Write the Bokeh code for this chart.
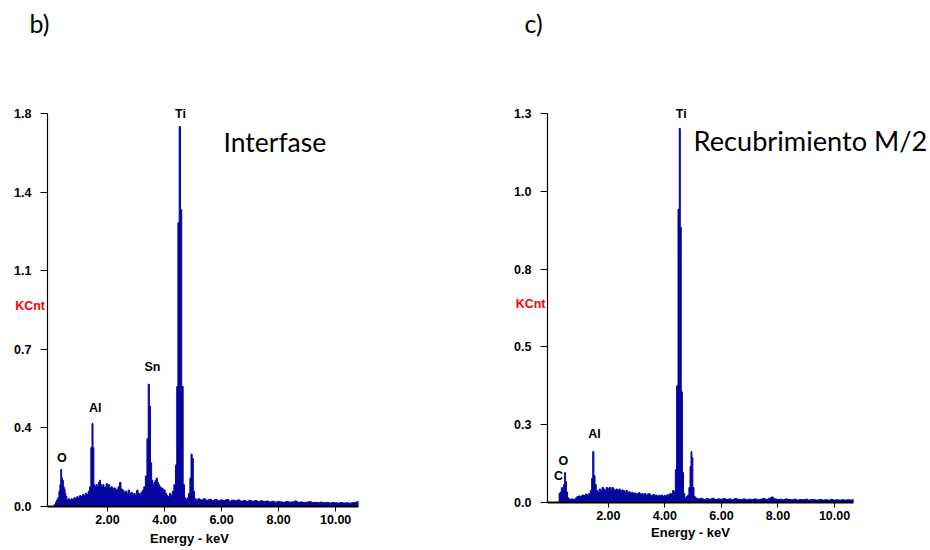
from bokeh.plotting import figure
from bokeh.models import Range1d, FixedTicker, NumeralTickFormatter, Label
from bokeh.layouts import row
from bokeh.embed import file_html
from bokeh.resources import INLINE

# ---------------- data ----------------
# Panel b) "Interfase"
left_energy = [
    0.12, 0.16, 0.20, 0.24, 0.28, 0.32, 0.35, 0.38, 0.41, 0.44, 0.47, 0.50, 0.53, 0.56,
    0.60, 0.65, 0.70, 0.75, 0.80, 0.85, 0.90, 0.95, 1.00, 1.05, 1.10, 1.15, 1.20, 1.25,
    1.30, 1.35, 1.40, 1.44, 1.48, 1.51, 1.54, 1.58, 1.62, 1.66, 1.70, 1.74, 1.78, 1.82,
    1.86, 1.90, 1.94, 1.98, 2.02, 2.06, 2.10, 2.15, 2.20, 2.25, 2.30, 2.35, 2.40, 2.45,
    2.50, 2.55, 2.60, 2.65, 2.70, 2.75, 2.80, 2.85, 2.90, 2.95, 3.00, 3.05, 3.10, 3.15,
    3.20, 3.25, 3.30, 3.36, 3.41, 3.45, 3.49, 3.53, 3.57, 3.61, 3.65, 3.69, 3.73, 3.77,
    3.81, 3.85, 3.90, 3.95, 4.00, 4.05, 4.10, 4.15, 4.20, 4.25, 4.30, 4.36, 4.41, 4.45,
    4.49, 4.54, 4.58, 4.63, 4.68, 4.72, 4.77, 4.82, 4.87, 4.91, 4.95, 4.99, 5.03, 5.08,
    5.14, 5.20, 5.30, 5.40, 5.50, 5.60, 5.70, 5.80, 5.90, 6.00, 6.10, 6.20, 6.30, 6.40,
    6.50, 6.60, 6.70, 6.80, 6.90, 7.00, 7.10, 7.20, 7.30, 7.40, 7.50, 7.60, 7.70, 7.80,
    7.90, 8.00, 8.10, 8.20, 8.30, 8.40, 8.50, 8.60, 8.70, 8.80, 8.90, 9.00, 9.10, 9.20,
    9.30, 9.40, 9.50, 9.60, 9.70, 9.80, 9.90, 10.00, 10.10, 10.20, 10.30, 10.40, 10.50,
    10.60, 10.70, 10.80,
]
left_counts = [
    0.0, 0.01, 0.02, 0.03, 0.04, 0.07, 0.10, 0.17, 0.13, 0.12, 0.09, 0.08, 0.06, 0.045,
    0.03, 0.035, 0.03, 0.035, 0.03, 0.04, 0.035, 0.045, 0.04, 0.05, 0.045, 0.055, 0.05, 0.06,
    0.055, 0.07, 0.09, 0.27, 0.38, 0.27, 0.10, 0.09, 0.10, 0.09, 0.11, 0.12, 0.10, 0.09,
    0.10, 0.085, 0.09, 0.105, 0.09, 0.10, 0.085, 0.09, 0.08, 0.085, 0.075, 0.08, 0.09, 0.11,
    0.08, 0.075, 0.065, 0.07, 0.06, 0.075, 0.06, 0.065, 0.055, 0.06, 0.05, 0.075, 0.06, 0.055,
    0.065, 0.075, 0.09, 0.14, 0.31, 0.56, 0.46, 0.20, 0.12, 0.10, 0.11, 0.12, 0.13, 0.11,
    0.10, 0.09, 0.085, 0.08, 0.075, 0.06, 0.05, 0.045, 0.06, 0.05, 0.07, 0.10, 0.19, 0.55,
    1.30, 1.74, 1.36, 0.55, 0.10, 0.04, 0.03, 0.04, 0.06, 0.13, 0.24, 0.22, 0.07, 0.035,
    0.03, 0.035, 0.03, 0.035, 0.028, 0.033, 0.027, 0.032, 0.026, 0.03, 0.027, 0.032, 0.025, 0.029,
    0.026, 0.03, 0.024, 0.027, 0.023, 0.028, 0.024, 0.027, 0.022, 0.026, 0.023, 0.025, 0.021, 0.024,
    0.02, 0.023, 0.021, 0.019, 0.023, 0.02, 0.021, 0.025, 0.019, 0.021, 0.018, 0.02, 0.022, 0.018,
    0.019, 0.017, 0.02, 0.017, 0.019, 0.016, 0.018, 0.017, 0.016, 0.018, 0.016, 0.017, 0.015,
    0.017, 0.019, 0.022,
]
left_ticks_y = [0, 0.36, 0.72, 1.08, 1.44, 1.8]
left_elements = ["O", "Al", "Sn", "Ti"]
left_element_x = [0.40, 1.57, 3.58, 4.56]
left_element_y = [0.22, 0.45, 0.64, 1.8]

# Panel c) "Recubrimiento M/2"
right_energy = [
    0.24, 0.28, 0.32, 0.36, 0.40, 0.44, 0.47, 0.50, 0.54, 0.58, 0.65, 0.72, 0.80, 0.86,
    0.92, 0.98, 1.04, 1.10, 1.16, 1.22, 1.28, 1.34, 1.39, 1.43, 1.47, 1.51, 1.55, 1.60,
    1.65, 1.70, 1.75, 1.80, 1.85, 1.90, 1.95, 2.00, 2.05, 2.10, 2.15, 2.20, 2.25, 2.30,
    2.35, 2.40, 2.45, 2.50, 2.55, 2.60, 2.65, 2.70, 2.75, 2.80, 2.85, 2.90, 2.95, 3.00,
    3.05, 3.10, 3.15, 3.20, 3.25, 3.30, 3.35, 3.40, 3.45, 3.50, 3.55, 3.60, 3.65, 3.70,
    3.75, 3.80, 3.85, 3.90, 3.95, 4.00, 4.05, 4.10, 4.15, 4.20, 4.25, 4.30, 4.35, 4.39,
    4.44, 4.49, 4.53, 4.56, 4.60, 4.64, 4.68, 4.73, 4.78, 4.83, 4.87, 4.91, 4.94, 4.97,
    5.01, 5.05, 5.10, 5.20, 5.30, 5.40, 5.50, 5.60, 5.70, 5.80, 5.90, 6.00, 6.10, 6.20,
    6.30, 6.40, 6.50, 6.60, 6.70, 6.80, 6.90, 7.00, 7.10, 7.20, 7.30, 7.40, 7.50, 7.60,
    7.70, 7.80, 7.90, 8.00, 8.10, 8.20, 8.30, 8.40, 8.50, 8.60, 8.70, 8.80, 8.90, 9.00,
    9.10, 9.20, 9.30, 9.40, 9.50, 9.60, 9.70, 9.80, 9.90, 10.00, 10.10, 10.20, 10.30,
    10.40, 10.50, 10.60, 10.67,
]
right_counts = [
    0.0, 0.03, 0.035, 0.05, 0.04, 0.06, 0.10, 0.07, 0.035, 0.015, 0.01, 0.012, 0.01, 0.015,
    0.02, 0.022, 0.02, 0.025, 0.023, 0.028, 0.025, 0.03, 0.04, 0.08, 0.17, 0.09, 0.06, 0.04,
    0.035, 0.045, 0.04, 0.05, 0.045, 0.04, 0.05, 0.045, 0.05, 0.04, 0.05, 0.045, 0.04, 0.045,
    0.04, 0.045, 0.038, 0.042, 0.04, 0.035, 0.04, 0.033, 0.036, 0.03, 0.034, 0.03, 0.032, 0.028,
    0.03, 0.033, 0.027, 0.03, 0.026, 0.03, 0.025, 0.028, 0.03, 0.025, 0.022, 0.027, 0.023, 0.025,
    0.02, 0.024, 0.022, 0.025, 0.02, 0.024, 0.022, 0.026, 0.025, 0.03, 0.028, 0.04, 0.035, 0.11,
    0.39, 0.98, 1.25, 0.92, 0.37, 0.10, 0.03, 0.015, 0.02, 0.025, 0.05, 0.12, 0.17, 0.15,
    0.05, 0.02, 0.015, 0.012, 0.014, 0.01, 0.013, 0.011, 0.014, 0.01, 0.012, 0.011, 0.013, 0.01,
    0.012, 0.009, 0.013, 0.011, 0.01, 0.012, 0.009, 0.011, 0.01, 0.012, 0.009, 0.011, 0.013, 0.01,
    0.014, 0.018, 0.012, 0.01, 0.011, 0.009, 0.012, 0.01, 0.009, 0.011, 0.008, 0.01, 0.009, 0.011,
    0.008, 0.01, 0.009, 0.008, 0.01, 0.008, 0.009, 0.008, 0.01, 0.008, 0.009, 0.008, 0.009,
    0.008, 0.009, 0.008, 0.01,
]
right_ticks_y = [0, 0.26, 0.52, 0.78, 1.04, 1.3]
right_elements = ["C", "O", "Al", "Ti"]
right_element_x = [0.24, 0.41, 1.51, 4.58]
right_element_y = [0.088, 0.14, 0.23, 1.3]

x_ticks = [2, 4, 6, 8, 10]

SPEC = "#0505a0"
TICK_FONT = "Liberation Sans"
BIG_FONT = "Lato"
H = 550


def make_panel(energy, counts, width, page_x0, axis_x, axis_px, y_max, axis_py,
               y_ticks, names, nx, ny, texts):
    # axis_x = (E_left, E_right) shown by the axis; axis_px = their page pixels
    # axis_py = (page pixel of y=0, page pixel of y=y_max)
    e0, e1 = axis_x
    px0, px1 = axis_px[0] - page_x0, axis_px[1] - page_x0
    kx = (px1 - px0) / (e1 - e0)
    x_rng = (e0 - px0 / kx, e1 + (width - px1) / kx)
    py0, py1 = axis_py
    ky = (py0 - py1) / y_max
    y_rng = (-(H - py0) / ky, y_max + py1 / ky)

    p = figure(width=width, height=H,
               x_range=Range1d(*x_rng), y_range=Range1d(*y_rng),
               output_backend="svg", toolbar_location=None, min_border=0)
    p.title.visible = False
    p.xgrid.visible = False
    p.ygrid.visible = False
    p.outline_line_color = None
    p.background_fill_color = "white"
    p.border_fill_color = "white"

    p.varea_step(x=energy, y1=[0] * len(energy), y2=counts, step_mode="center",
                 fill_color=SPEC)
    p.step(x=energy, y=counts, mode="center", line_color=SPEC, line_width=1)

    xa = p.xaxis[0]
    xa.fixed_location = 0
    xa.bounds = (e0, e1)
    xa.ticker = FixedTicker(ticks=x_ticks)
    xa.formatter = NumeralTickFormatter(format="0.00")
    xa.major_tick_in = 0
    xa.major_tick_out = 5
    xa.minor_tick_line_color = None
    xa.axis_line_width = 2
    xa.axis_line_color = "black"
    xa.major_tick_line_color = "black"
    xa.major_label_standoff = 3
    xa.major_label_text_font = TICK_FONT
    xa.major_label_text_font_style = "bold"
    xa.major_label_text_font_size = "12.5px"
    xa.major_label_text_color = "black"

    ya = p.yaxis[0]
    ya.fixed_location = e0
    ya.bounds = (0, y_max)
    ya.ticker = FixedTicker(ticks=y_ticks)
    ya.formatter = NumeralTickFormatter(format="0.0")
    ya.major_tick_in = 0
    ya.major_tick_out = 7
    ya.minor_tick_line_color = None
    ya.axis_line_width = 1.2
    ya.axis_line_color = "black"
    ya.major_tick_line_color = "black"
    ya.major_label_standoff = 9
    ya.major_label_text_font = TICK_FONT
    ya.major_label_text_font_style = "bold"
    ya.major_label_text_font_size = "12.5px"
    ya.major_label_text_color = "black"

    for name, x, y in zip(names, nx, ny):
        p.add_layout(Label(x=x, y=y, text=name, text_align="center",
                           text_baseline="middle", text_font=TICK_FONT,
                           text_font_style="bold", text_font_size="12.5px",
                           text_color="black"))

    for (text, tx, ty, align, baseline, font, size, style, color) in texts:
        p.add_layout(Label(x=tx - page_x0, y=H - ty, x_units="screen", y_units="screen",
                           text=text, text_align=align, text_baseline=baseline,
                           text_font=font, text_font_size=size, text_font_style=style,
                           text_color=color))
    return p


left_texts = [
    ("b)", 29, 22.5, "left", "alphabetic", BIG_FONT, "25px", "normal", "black"),
    ("Interfase", 223, 141.5, "left", "alphabetic", BIG_FONT, "26.5px", "normal", "black"),
    ("KCnt", 44.5, 305, "right", "middle", TICK_FONT, "12.5px", "bold", "red"),
    ("Energy - keV", 189, 538, "center", "middle", TICK_FONT, "13px", "bold", "black"),
]
right_texts = [
    ("c)", 524, 22.5, "left", "alphabetic", BIG_FONT, "25px", "normal", "black"),
    ("Recubrimiento M/2", 693, 139.5, "left", "alphabetic", BIG_FONT, "27.2px", "normal", "black"),
    ("KCnt", 545, 303.5, "right", "middle", TICK_FONT, "12.5px", "bold", "red"),
    ("Energy - keV", 690, 531.5, "center", "middle", TICK_FONT, "13px", "bold", "black"),
]

p1 = make_panel(left_energy, left_counts, 490, 0, (-0.1, 10.8), (47, 358), 1.8, (506, 113),
                left_ticks_y, left_elements, left_element_x, left_element_y, left_texts)
p2 = make_panel(right_energy, right_counts, 440, 490, (-0.15, 10.67), (547, 853), 1.3, (502, 113),
                right_ticks_y, right_elements, right_element_x, right_element_y, right_texts)

layout = row(p1, p2)
open("out.html", "w").write(file_html(layout, INLINE))
